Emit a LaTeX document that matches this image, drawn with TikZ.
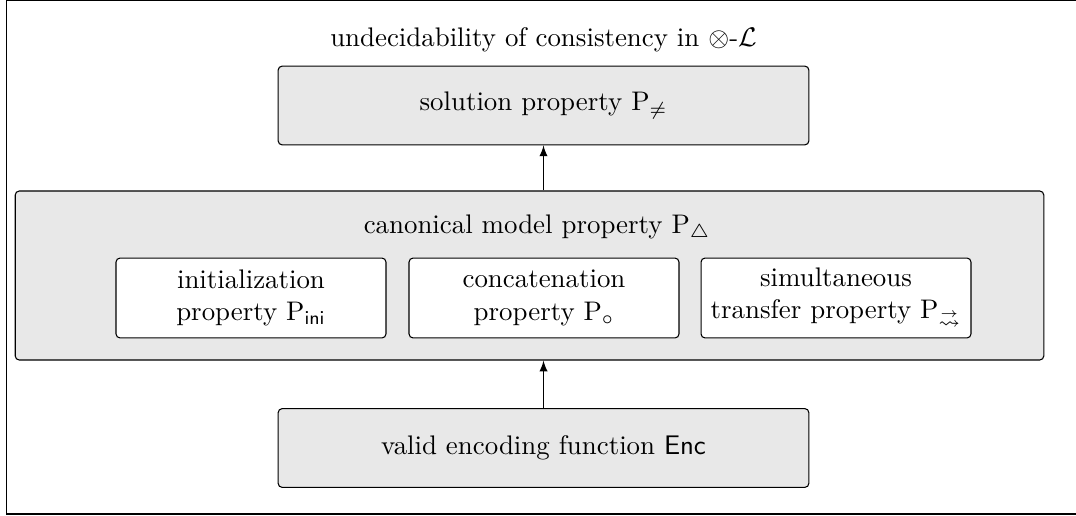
\documentclass[tikz,border=0pt]{standalone}
\usepackage{amsmath}
\usepackage{amssymb}
\usetikzlibrary{arrows.meta, positioning, fit}
\definecolor{boxfill}{RGB}{232, 232, 232}

\begin{document}
\begin{tikzpicture}[x=0.01307cm, y=-0.01307cm,
    outerbox/.style={draw, fill=boxfill, rounded corners=1.5pt, thin},
    propbox/.style={draw, fill=boxfill, rounded corners=1.5pt, thin, minimum width=6.94cm, minimum height=1.03cm},
    subbox/.style={draw, fill=white, rounded corners=1.5pt, thin, minimum width=3.53cm, minimum height=1.045cm, align=center}]
    \useasboundingbox (0, 0) rectangle (1076, 516);
    % Frame
    \draw[thin] (6.5, 0.5) rectangle (1085, 514);

    % Title
    \node (title) at (543.5, 40) {undecidability of consistency in $\otimes$-$\mathcal{L}$};

    % Top box
    \node[propbox] (sol) at (543.5, 105.5) {solution property $\mathrm{P}_{\neq}$};

    % Middle box with the three parts
    \node[outerbox, minimum width=13.45cm, minimum height=2.21cm] (canon) at (529.5, 275.5) {};
    \node (canontitle) at (537, 228) {canonical model property $\mathrm{P}_{\triangle}$};
    \node[subbox] (ini) at (251, 298) {initialization\\property $\mathrm{P}_{\mathsf{ini}}$};
    \node[subbox] (conc) at (544, 298) {concatenation\\property $\mathrm{P}_{\circ}$};
    \node[subbox] (trans) at (836, 298) {simultaneous\\transfer property $\mathrm{P}_{\overset{\to}{\rightsquigarrow}}$};

    % Bottom box
    \node[propbox] (enc) at (543.5, 448) {valid encoding function $\mathsf{Enc}$};

    % Arrows
    \draw[-latex] (canon.north -| sol.south) -- (sol.south);
    \draw[-latex] (enc.north) -- (canon.south -| enc.north);
\end{tikzpicture}
\end{document}
